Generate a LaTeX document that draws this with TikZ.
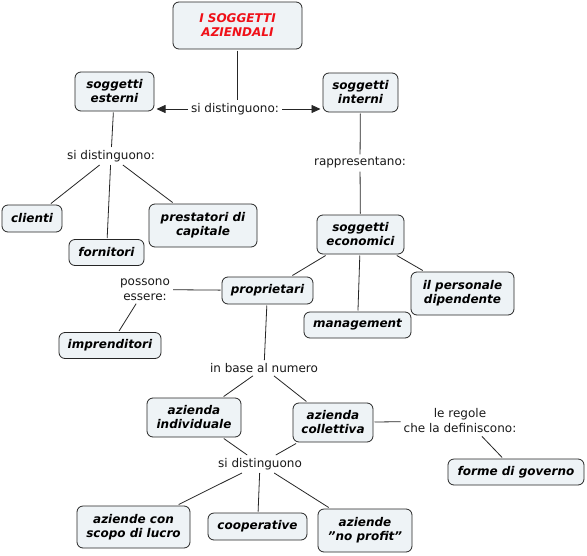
\documentclass[tikz,border=0pt]{standalone}
\usepackage{fontspec}
\setmainfont{DejaVu Sans}
\usetikzlibrary{arrows.meta}
\definecolor{boxfill}{HTML}{EEF3F6}
\definecolor{titlered}{HTML}{F01018}
\begin{document}
\begin{tikzpicture}[x=1pt,y=-1pt,
  box/.style={draw=black!85, line width=0.8pt, rounded corners=6pt, fill=boxfill,
    font=\fontsize{12}{14}\selectfont\bfseries\itshape, align=center, inner sep=0pt, outer sep=1.5pt},
  lbl/.style={align=center, inner sep=3pt, text=black!90, font=\fontsize{12}{15}\selectfont},
  link/.style={draw=black!85, line width=0.8pt},
  arr/.style={link, -{Triangle[length=9pt,width=8pt]}, shorten >=1pt}]
\useasboundingbox[fill=white] (0,0) rectangle (587,555);
% concepts
\node[box, minimum width=129pt, minimum height=47pt, text=titlered] (title) at (237.5,25.5) {I SOGGETTI\\AZIENDALI};
\node[box, minimum width=79pt, minimum height=39pt] (esterni) at (114.5,91.5) {soggetti\\esterni};
\node[box, minimum width=75pt, minimum height=39pt] (interni) at (360.5,92.5) {soggetti\\interni};
\node[box, minimum width=60pt, minimum height=27pt] (clienti) at (32,218.5) {clienti};
\node[box, minimum width=75pt, minimum height=26pt] (fornitori) at (106.5,252.5) {fornitori};
\node[box, minimum width=108pt, minimum height=43pt] (prestatori) at (203,225.5) {prestatori di\\capitale};
\node[box, minimum width=87pt, minimum height=39pt] (economici) at (360.5,234.5) {soggetti\\economici};
\node[box, minimum width=91pt, minimum height=27pt] (proprietari) at (267.5,290.5) {proprietari};
\node[box, minimum width=107pt, minimum height=26pt] (management) at (357.5,325) {management};
\node[box, minimum width=103pt, minimum height=43pt] (personale) at (462.5,293.5) {il personale\\dipendente};
\node[box, minimum width=102pt, minimum height=26pt] (imprenditori) at (110,345.5) {imprenditori};
\node[box, minimum width=94pt, minimum height=39pt] (individuale) at (194,417.5) {azienda\\individuale};
\node[box, minimum width=80pt, minimum height=39pt] (collettiva) at (333,422.5) {azienda\\collettiva};
\node[box, minimum width=136pt, minimum height=26pt] (forme) at (516,472) {forme di governo};
\node[box, minimum width=113pt, minimum height=42pt] (lucro) at (133.5,527) {aziende con\\scopo di lucro};
\node[box, minimum width=99pt, minimum height=27pt] (cooperative) at (257.5,526.5) {cooperative};
\node[box, minimum width=94pt, minimum height=43pt] (noprofit) at (365,530.5) {aziende\\\symbol{34}no profit\symbol{34}};
% linking phrases
\node[lbl] (d1) at (235,109) {si distinguono:};
\node[lbl] (d2) at (111,156) {si distinguono:};
\node[lbl] (rapp) at (360,163) {rappresentano:};
\node[lbl] (poss) at (145,289.5) {possono\\essere:};
\node[lbl] (base) at (264,368) {in base al numero};
\node[lbl] (regole) at (460,421) {le regole\\che la definiscono:};
\node[lbl] (d3) at (260,464) {si distinguono};
% connectors
\draw[link] (title.south) -- (title.south |- d1.north);
\draw[arr] (d1.west) -- (d1.west -| esterni.east);
\draw[arr] (d1.east) -- (d1.east -| interni.west);
\draw[link] (esterni) -- (d2);
\draw[link] (d2) -- (clienti);
\draw[link] (d2) -- (fornitori);
\draw[link] (d2) -- (prestatori);
\draw[link] (interni) -- (rapp);
\draw[link] (rapp) -- (economici);
\draw[link] (economici) -- (proprietari);
\draw[link] (economici) -- (management);
\draw[link] (economici) -- (personale);
\draw[link] (proprietari) -- (poss);
\draw[link] (poss) -- (imprenditori);
\draw[link] (proprietari) -- (base);
\draw[link] (base) -- (individuale);
\draw[link] (base) -- (collettiva);
\draw[link] (collettiva) -- (regole);
\draw[link] (regole.-35) -- (forme);
\draw[link] (individuale) -- (d3);
\draw[link] (collettiva) -- (d3);
\draw[link] (d3) -- (lucro);
\draw[link] (d3) -- (cooperative);
\draw[link] (d3) -- (noprofit);
\end{tikzpicture}
\end{document}
